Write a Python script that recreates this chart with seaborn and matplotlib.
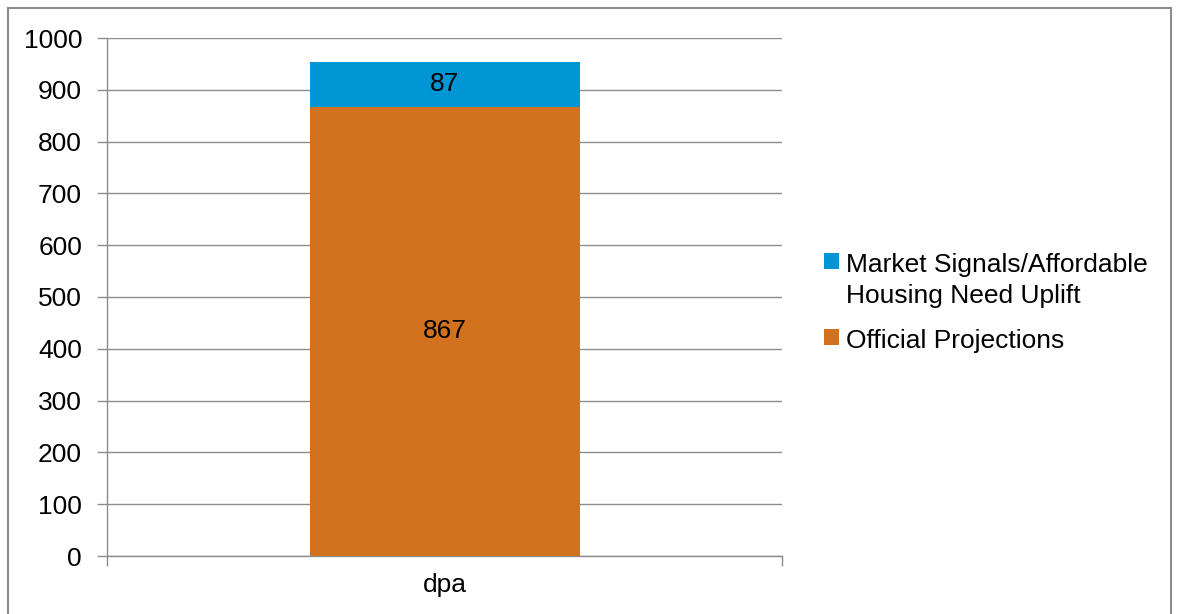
import matplotlib
matplotlib.use("Agg")
import matplotlib.pyplot as plt
import seaborn as sns
import pandas as pd
from matplotlib.patches import Rectangle, Patch

categories = ["dpa"]
official = [867]
uplift = [87]
series_names = ["Market Signals/Affordable\nHousing Need Uplift", "Official Projections"]
colors = ["#0096D6", "#D2711E"]
yticks = [0, 100, 200, 300, 400, 500, 600, 700, 800, 900, 1000]

sns.set_theme(style="white")
plt.rcParams['font.family'] = ['Liberation Sans', 'DejaVu Sans']
plt.rcParams['text.color'] = 'black'
plt.rcParams['xtick.color'] = 'black'
plt.rcParams['ytick.color'] = 'black'

FS = 19

df = pd.DataFrame({"cat": categories,
                   "official": official,
                   "total": [o + u for o, u in zip(official, uplift)]})

fig = plt.figure(figsize=(11.79, 6.14), dpi=100)
ax = fig.add_axes([107/1179, 58/614, 675/1179, 518/614])

sns.barplot(data=df, x="cat", y="total", color=colors[0], width=0.4,
            saturation=1, ax=ax, linewidth=0, zorder=2)
sns.barplot(data=df, x="cat", y="official", color=colors[1], width=0.4,
            saturation=1, ax=ax, linewidth=0, zorder=3)

for i, (o, u) in enumerate(zip(official, uplift)):
    ax.text(i, o / 2, f"{o}", ha="center", va="center", fontsize=FS, color="black", zorder=4)
    ax.text(i, o + u / 2, f"{u}", ha="center", va="center", fontsize=FS, color="black", zorder=4)

ax.set_xlim(-0.5, 0.5)
ax.set_ylim(0, 1000)
ax.set_yticks(yticks)
ax.set_yticklabels([str(t) for t in yticks], fontsize=FS)
ax.set_xticks([0])
ax.set_xticklabels(categories, fontsize=FS)
ax.set_xticks([-0.5, 0.5], minor=True)
ax.tick_params(axis="x", which="major", length=0, pad=12, labelcolor="black")
ax.tick_params(axis="x", which="minor", length=7, color="#8c8c8c", width=1, bottom=True, direction="out")
ax.tick_params(axis="y", which="major", length=7, color="#8c8c8c", width=1, left=True, direction="out",
               pad=11, labelcolor="black")
ax.set_xlabel("")
ax.set_ylabel("")
ax.yaxis.grid(True, color="#8c8c8c", linewidth=1, zorder=0)
ax.set_axisbelow(True)
for s in ["top", "right"]:
    ax.spines[s].set_visible(False)
for s in ["left", "bottom"]:
    ax.spines[s].set_color("#8c8c8c")
    ax.spines[s].set_linewidth(1)

handles = [Patch(facecolor=colors[0], edgecolor="none"),
           Patch(facecolor=colors[1], edgecolor="none")]
leg = fig.legend(handles, series_names, loc="upper left", bbox_to_anchor=(824/1179, 1 - 253/614),
                 frameon=False, fontsize=FS, handlelength=0.55, handleheight=0.55,
                 handletextpad=0.3, labelspacing=0.8, borderaxespad=0, borderpad=0)
for t in leg.get_texts():
    t.set_color("black")
    t.set_linespacing(1.35)
try:
    for col in leg._legend_handle_box.get_children():
        for row in col.get_children():
            row.align = "top"
except Exception:
    pass

fig.patches.append(Rectangle((8/1179, -0.05), 1163/1179, 1 - 8/614 + 0.05,
                             transform=fig.transFigure, fill=False,
                             edgecolor="#8c8c8c", linewidth=1.5))

fig.savefig("out.png", dpi=100, facecolor="white")
